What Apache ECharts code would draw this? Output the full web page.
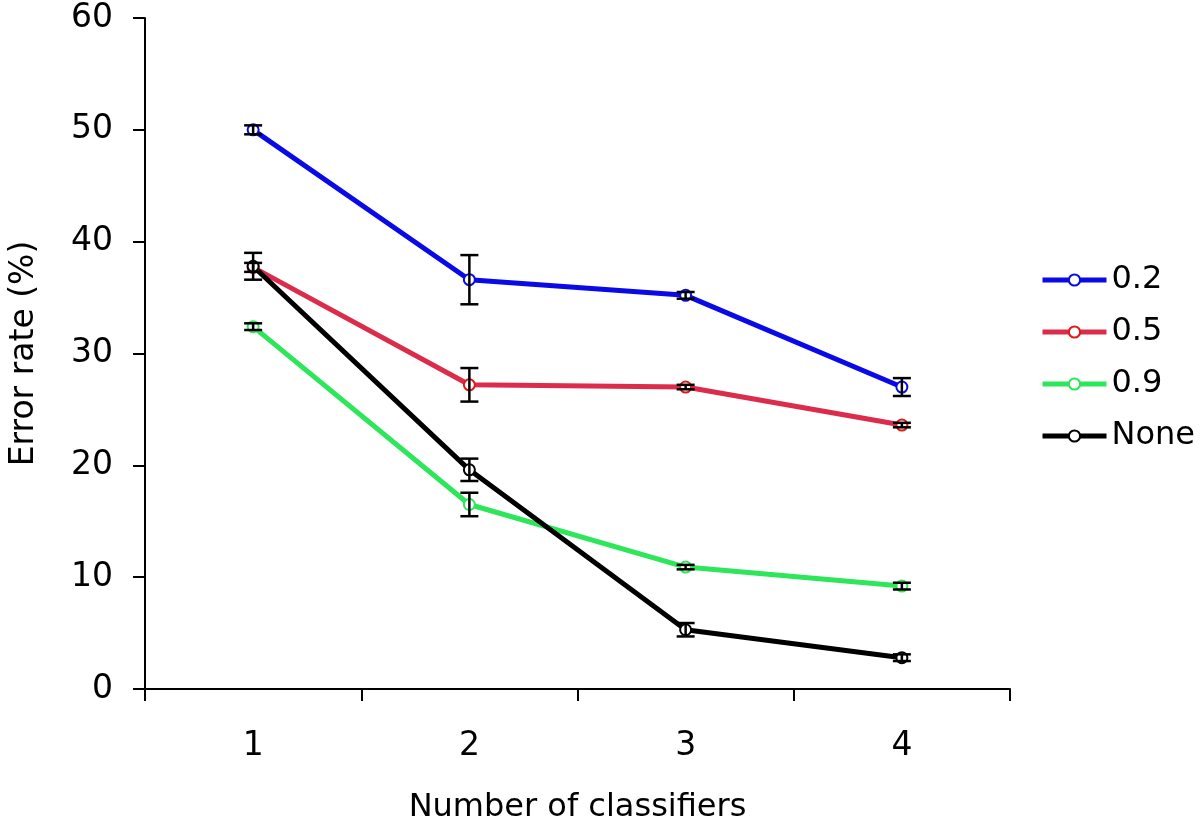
<!DOCTYPE html>
<html>
<head>
<meta charset="utf-8">
<script src="https://cdn.jsdelivr.net/npm/echarts@6/dist/echarts.min.js"></script>
<style>
  html, body { margin: 0; padding: 0; background: #fff; }
  #chart { width: 1200px; height: 830px; }
</style>
</head>
<body>
<div id="chart"></div>
<script>
// categories (number of classifiers)
const categories = ['1', '2', '3', '4']

// mean error rate (%) and error bar half-widths per series
const names = ['0.2', '0.5', '0.9', 'None']
const colors = ['#0a0ae8', '#dc2c4c', '#2ee65a', '#000000']
const ringColors = ['#0a0ae8', '#e01818', '#2ee65a', '#000000']

const s02 = [50.0, 36.6, 35.2, 27.0]
const s05 = [37.7, 27.2, 27.0, 23.6]
const s09 = [32.4, 16.5, 10.9, 9.2]
const sNone = [37.8, 19.6, 5.3, 2.8]

const e02 = [0.4, 2.2, 0.3, 0.8]
const e05 = [0.4, 1.5, 0.2, 0.2]
const e09 = [0.3, 1.05, 0.2, 0.3]
const eNone = [1.2, 1.0, 0.6, 0.3]

const values = [s02, s05, s09, sNone]
const errors = [e02, e05, e09, eNone]

const font = 'DejaVu Sans'
const chart = echarts.init(document.getElementById('chart'))

// error bar data: [categoryIndex, mean, halfWidth]
const errData = []
values.forEach((vals, si) => {
  vals.forEach((v, i) => errData.push([i, v, errors[si][i]]))
})

const lineSeries = names.map((n, i) => ({
  name: n,
  type: 'line',
  data: values[i],
  symbol: 'emptyCircle',
  symbolSize: 11,
  z: 3,
  lineStyle: { width: 5, color: colors[i] },
  itemStyle: { color: ringColors[i], borderWidth: 2.5 },
  emphasis: { disabled: true }
}))

chart.setOption({
  animation: false,
  grid: { left: 145, right: 190, top: 18, bottom: 141, outerBoundsMode: 'none', containLabel: false },
  legend: {
    orient: 'vertical',
    left: 1035,
    top: 259,
    itemWidth: 64,
    itemHeight: 14,
    itemGap: 20,
    lineStyle: { width: 5 },
    textStyle: { fontFamily: font, fontSize: 32, color: '#000' },
    data: names
  },
  xAxis: {
    type: 'category',
    data: categories,
    boundaryGap: true,
    name: 'Number of classifiers',
    nameLocation: 'middle',
    nameGap: 103,
    nameTextStyle: { fontFamily: font, fontSize: 32, color: '#000' },
    axisLine: { lineStyle: { color: '#000', width: 2 } },
    axisTick: { show: true, alignWithLabel: false, length: 12, lineStyle: { color: '#000', width: 2 } },
    axisLabel: { fontFamily: font, fontSize: 33, color: '#000', margin: 41 },
    splitLine: { show: false }
  },
  yAxis: {
    type: 'value',
    min: 0,
    max: 60,
    interval: 10,
    name: 'Error rate (%)',
    nameLocation: 'middle',
    nameGap: 104,
    nameTextStyle: { fontFamily: font, fontSize: 33, color: '#000' },
    axisLine: { show: true, lineStyle: { color: '#000', width: 2 } },
    axisTick: { show: true, length: 12, lineStyle: { color: '#000', width: 2 } },
    axisLabel: { fontFamily: font, fontSize: 33, color: '#000', margin: 32 },
    splitLine: { show: false }
  },
  series: [
    ...lineSeries,
    {
      type: 'custom',
      z: 4,
      silent: true,
      data: errData,
      renderItem: (params, api) => {
        const x = api.value(0)
        const m = api.value(1)
        const e = api.value(2)
        const top = api.coord([x, m + e])
        const bot = api.coord([x, m - e])
        const hw = 9
        const style = { stroke: '#000', lineWidth: 2.5 }
        return {
          type: 'group',
          children: [
            { type: 'line', shape: { x1: top[0], y1: top[1], x2: bot[0], y2: bot[1] }, style },
            { type: 'line', shape: { x1: top[0] - hw, y1: top[1], x2: top[0] + hw, y2: top[1] }, style },
            { type: 'line', shape: { x1: bot[0] - hw, y1: bot[1], x2: bot[0] + hw, y2: bot[1] }, style }
          ]
        }
      }
    }
  ]
})
</script>
</body>
</html>
